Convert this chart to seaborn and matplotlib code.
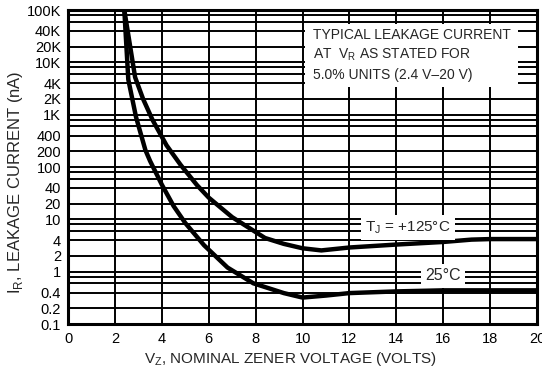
import numpy as np
import matplotlib
matplotlib.use("Agg")
import matplotlib.pyplot as plt
from matplotlib.patches import Rectangle
import pandas as pd
import seaborn as sns

# curves (Vz in volts, Ir in nA)
vz_125 = [2.4, 2.86, 3.2, 3.6, 4.2, 4.8, 5.5, 6.0, 7.0, 8.4, 9.2, 10.0, 10.8, 12.0, 14.0, 16.0, 17.2, 18.0, 20.0]
ir_125 = [100000, 5200, 2000, 800, 260, 110, 45, 26, 11, 4.4, 3.4, 2.8, 2.55, 2.9, 3.3, 3.7, 4.1, 4.2, 4.2]

vz_25 = [2.4, 2.57, 2.9, 3.3, 3.5, 4.0, 4.5, 5.0, 5.8, 6.8, 7.9, 9.2, 10.0, 11.0, 12.0, 14.0, 16.0, 20.0]
ir_25 = [100000, 4700, 900, 210, 130, 46, 18, 8.5, 3.2, 1.2, 0.6, 0.39, 0.32, 0.35, 0.39, 0.42, 0.44, 0.44]

y_ticks = [0.1, 0.2, 0.4, 1, 2, 4, 10, 20, 40, 100, 200, 400, 1e3, 2e3, 4e3, 1e4, 2e4, 4e4, 1e5]
y_labels = ["0.1", "0.2", "0.4", "1", "2", "4", "10", "20", "40", "100", "200", "400",
            "1K", "2K", "4K", "10K", "20K", "40K", "100K"]
x_ticks = list(range(0, 21, 2))

df = pd.concat([
    pd.DataFrame({"vz": vz_125, "ir": ir_125, "tj": "125"}),
    pd.DataFrame({"vz": vz_25, "ir": ir_25, "tj": "25"}),
])

sns.set_style("white")
plt.rcParams["font.family"] = ["Liberation Sans", "DejaVu Sans"]
plt.rcParams["mathtext.fontset"] = "custom"
plt.rcParams["mathtext.rm"] = "Liberation Sans"

fig = plt.figure(figsize=(5.42, 3.72), dpi=100)
ax = fig.add_axes([0.1255, 0.129, 0.8655, 0.844])

sns.lineplot(data=df, x="vz", y="ir", units="tj", estimator=None, sort=False,
             color="black", linewidth=3.2, ax=ax, legend=False)

ax.set_yscale("log")
ax.set_xlim(0, 20)
ax.set_ylim(0.1, 1e5)

# graph paper lines: 1,2,4,6,8 per decade, every 2 V
minor = [d * m for d in [0.1, 1, 10, 100, 1e3, 1e4] for m in [6, 8]]
ax.set_yticks(y_ticks)
ax.set_yticklabels(y_labels)
ax.set_yticks(minor, minor=True)
ax.yaxis.set_minor_formatter(matplotlib.ticker.NullFormatter())
ax.set_xticks(x_ticks)
ax.set_axisbelow(True)
ax.grid(True, which="both", axis="y", color="black", linewidth=1.4)
ax.grid(True, which="major", axis="x", color="black", linewidth=1.4)
ax.tick_params(which="both", length=0, labelsize=10.5, colors="black")
ax.tick_params(axis="y", pad=5)
ax.tick_params(axis="x", pad=6)

for s in ax.spines.values():
    s.set_color("black")
    s.set_linewidth(2.2)

ax.set_xlabel(r"V$_\mathregular{Z}$, NOMINAL ZENER VOLTAGE (VOLTS)", fontsize=11)
ax.set_ylabel(r"I$_\mathregular{R}$, LEAKAGE CURRENT (nA)", fontsize=12)
ax.xaxis.set_label_coords(0.475, -0.082)
ax.yaxis.set_label_coords(-0.092, 0.45)

# note box
ax.add_patch(Rectangle((0.505, 0.755), 0.454, 0.2, transform=ax.transAxes,
                       facecolor="white", edgecolor="none", zorder=3))
note = ["TYPICAL LEAKAGE CURRENT",
        r"AT  V$_\mathregular{R}$ AS STATED FOR",
        "5.0% UNITS (2.4 V\u201320 V)"]
for txt, yy in zip(note, [0.920, 0.857, 0.793]):
    ax.text(0.522, yy, txt, transform=ax.transAxes, fontsize=10,
            va="center", ha="left", zorder=4)

ax.text(0.725, 0.306, r"T$_\mathregular{J}$ = +125°C", transform=ax.transAxes,
        fontsize=11, ha="center", va="center", zorder=4,
        bbox=dict(facecolor="white", edgecolor="none", pad=3))
ax.text(0.80, 0.153, "25°C", transform=ax.transAxes,
        fontsize=11.5, ha="center", va="center", zorder=4,
        bbox=dict(facecolor="white", edgecolor="none", pad=3))

fig.savefig("out.png", dpi=100)
